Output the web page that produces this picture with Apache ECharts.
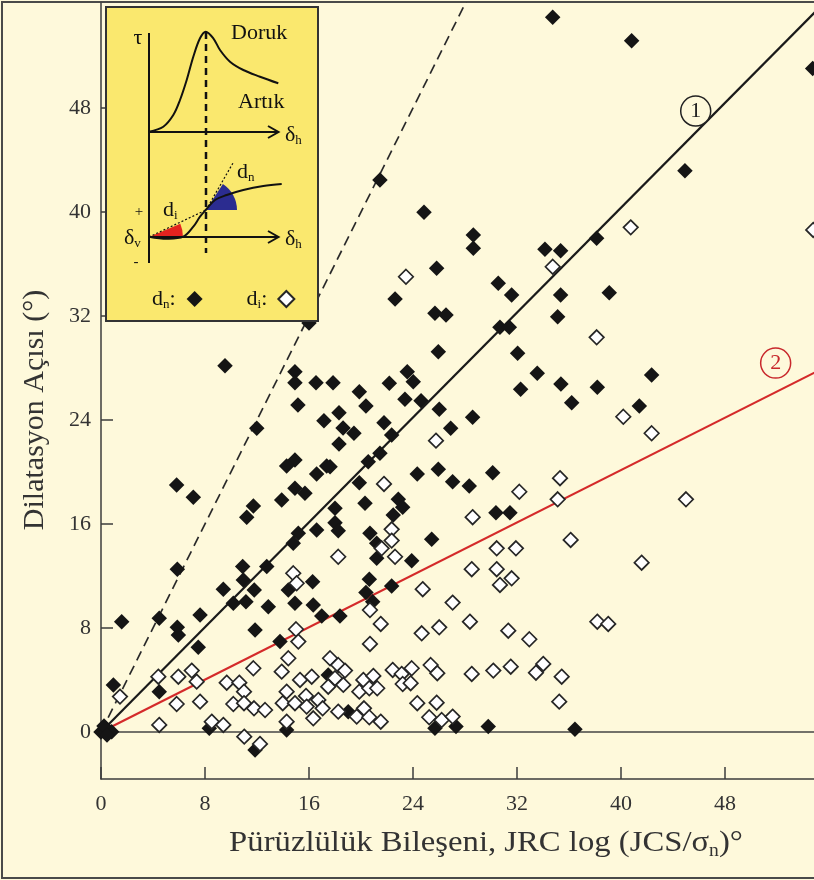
<!DOCTYPE html>
<html><head><meta charset="utf-8">
<script src="https://cdn.jsdelivr.net/npm/echarts@6/dist/echarts.min.js"></script>
<style>html,body{margin:0;padding:0;background:#fef9db}#c{width:814px;height:880px}</style>
</head><body><div id="c"></div>
<script>
// ---- data ----
const xTickVals = [0, 8, 16, 24, 32, 40, 48];
const yTickVals = [0, 8, 16, 24, 32, 40, 48];

// d_n : black diamonds
const dnX = [9.54,16.0,14.92,14.92,16.54,17.85,15.15,18.31,17.15,18.62,18.31,11.98,14.92,14.28,17.36,16.59,5.82,7.1,14.92,15.69,13.9,11.72,11.21,18.0,16.59,18.0,18.25,15.18,14.79,5.87,1.59,4.48,5.87,5.95,7.62,7.48,0.95,4.48,0.31,0.82,10.9,10.95,12.75,9.41,11.79,10.18,11.15,12.87,14.41,14.92,16.28,16.33,16.98,18.38,11.85,13.77,17.48,8.33,14.28,11.85,19.02,34.75,21.46,24.85,28.64,28.64,34.15,35.36,25.82,30.56,31.59,35.36,22.62,25.69,26.54,30.69,31.41,35.13,25.95,32.05,33.56,35.38,36.21,32.28,23.56,24.02,22.18,19.87,20.38,23.38,24.62,26.02,28.59,26.9,19.46,21.77,22.36,21.46,20.56,17.62,19.87,24.33,25.95,27.05,28.33,30.13,20.31,22.87,23.21,22.48,20.69,21.21,25.44,30.38,31.46,21.21,23.9,20.64,20.38,20.9,22.36,25.69,27.31,29.79,36.46,40.82,54.75,44.92,38.13,39.1,42.36,38.18,41.41,0,0.23,0.46];
const dnY = [28.18,31.46,27.72,26.87,26.87,26.87,25.15,24.56,23.95,23.38,22.15,23.36,20.92,20.46,20.46,19.85,19.0,18.05,18.75,18.36,17.85,17.38,16.52,17.21,15.54,16.1,15.48,15.28,14.52,12.52,8.48,8.75,8.05,7.46,9.0,6.52,3.62,3.1,0.28,0.02,12.72,11.69,12.72,10.98,10.92,9.9,10.02,9.64,10.92,9.9,11.56,9.77,8.92,8.92,7.85,6.95,4.38,0.28,0.15,-1.38,1.56,54.98,42.46,39.98,38.23,37.21,37.13,37.02,35.67,34.52,33.62,33.62,33.31,32.21,32.08,31.13,31.13,31.95,29.25,29.13,27.59,26.77,25.33,26.36,27.72,26.95,26.82,26.18,25.08,25.59,25.48,24.82,24.21,23.36,22.98,23.79,22.85,21.44,20.79,20.41,19.18,19.85,20.21,19.25,18.92,19.95,17.59,17.9,17.28,16.69,15.28,14.52,14.82,16.87,16.87,13.36,13.18,11.75,10.72,10.02,11.23,0.28,0.41,0.41,0.21,53.18,51.05,43.18,37.98,33.79,27.46,26.52,25.08,0,0.46,-0.23];

// d_i : white diamonds
const diX = [18.25,14.79,15.05,15.0,15.18,14.41,13.9,11.72,4.41,5.95,6.98,7.36,1.46,9.67,10.64,11.0,5.82,7.62,10.18,11.0,11.77,12.62,14.28,13.98,14.92,15.31,16.21,15.77,16.72,15.82,17.05,16.33,17.62,18.25,18.0,18.64,17.48,18.25,4.48,8.52,9.41,14.28,11.02,12.23,23.46,34.75,25.77,21.77,32.18,35.31,35.13,28.59,22.36,22.36,21.59,36.13,30.44,31.92,22.62,28.52,30.44,31.59,30.69,24.75,27.05,20.69,21.52,28.38,26.02,24.67,31.33,32.95,20.69,18.77,20.18,20.95,19.87,20.64,21.25,22.44,23.13,23.9,23.21,23.82,25.36,25.87,28.52,30.18,31.52,33.46,34.02,35.44,35.25,24.33,25.82,19.67,20.23,20.64,21.52,25.25,26.21,27.05,40.75,54.79,38.13,40.18,42.36,45.0,41.59,38.18,39.02];
const diY = [13.48,12.21,11.44,7.9,6.95,5.67,4.64,4.9,4.25,4.25,4.72,3.87,2.72,3.79,3.79,3.1,2.15,2.33,2.15,2.21,1.82,1.69,3.1,2.21,2.21,4.0,4.25,2.77,2.46,1.95,1.82,1.05,5.67,5.15,4.13,3.62,3.48,1.56,0.54,0.79,0.54,0.79,-0.36,-0.92,35.02,35.79,22.41,19.08,18.48,19.52,17.9,16.52,15.59,14.72,14.13,14.77,14.13,14.13,13.48,12.52,12.52,11.82,11.31,10.98,9.95,9.38,8.31,8.48,8.05,7.59,7.79,7.13,6.77,4.72,4.0,4.31,3.1,3.36,3.36,4.77,4.46,4.9,3.69,3.75,5.15,4.52,4.46,4.72,5.02,4.56,5.23,4.25,2.33,2.21,2.25,1.18,1.82,1.13,0.79,1.13,0.92,1.18,38.82,38.62,30.36,24.25,22.98,17.9,13.02,8.48,8.31];

// reference lines (end points)
const line1X = [0, 55];   const line1Y = [0, 55.45];   // (1)
const line2X = [0, 55];   const line2Y = [0, 27.7];    // (2)
const dashX  = [0, 30];   const dashY  = [0, 60];      // dashed
const zeroX  = [0, 55];   const zeroY  = [0, 0];
const label1 = [45.75, 47.77];
const label2 = [51.9, 28.38];

// ---- chart ----
const FONT = '"Liberation Serif", "Times New Roman", serif';
const pairs = (xs, ys) => xs.map((x, i) => [x, ys[i]]);
const chart = echarts.init(document.getElementById('c'), null, {renderer: 'canvas'});

function sub(x, y, main, s, size, align) {
  return {type: 'text', x: x, y: y, z: 5,
    style: {text: '{m|' + main + '}{s|' + s + '}', align: align || 'left', verticalAlign: 'middle',
      rich: {m: {fontSize: size, fontFamily: FONT, fill: '#111', lineHeight: size + 2},
             s: {fontSize: Math.round(size * 0.6), fontFamily: FONT, fill: '#111', lineHeight: 9, verticalAlign: 'bottom'}}}};
}
function seg(x1, y1, x2, y2, w, dash) {
  return {type: 'line', z: 5, shape: {x1: x1, y1: y1, x2: x2, y2: y2},
    style: {stroke: '#111', lineWidth: w || 2, lineDash: dash || null}};
}
const deg = Math.PI / 180;
const inset = [
  {type: 'rect', z: 5, shape: {x: 106, y: 7, width: 212, height: 314}, style: {fill: '#fae86e', stroke: '#333', lineWidth: 2}},
  {type: 'sector', z: 5, shape: {cx: 149, cy: 237, r: 34, r0: 0, startAngle: -23 * deg, endAngle: 0, clockwise: true}, style: {fill: '#e3231f'}},
  {type: 'sector', z: 5, shape: {cx: 206, cy: 210, r: 31, r0: 0, startAngle: -57 * deg, endAngle: 0, clockwise: true}, style: {fill: '#2b2c90'}},
  seg(149, 33, 149, 263),
  seg(149, 132, 278, 132),
  {type: 'polyline', z: 5, shape: {points: [[268, 126], [278.5, 132], [268, 138]]}, style: {stroke: '#111', lineWidth: 2, fill: null}},
  seg(149, 237, 278, 237),
  {type: 'polyline', z: 5, shape: {points: [[268, 231], [278.5, 237], [268, 243]]}, style: {stroke: '#111', lineWidth: 2, fill: null}},
  seg(206, 32, 206, 253, 2.5, [7, 5]),
  seg(149, 237, 206, 210, 1.2, [2, 2]),
  seg(206, 210, 233, 163, 1.2, [2, 2]),
  {type: 'polyline', z: 5, shape: {smooth: 0.35, points: [[149,131.7],[163.3,126.7],[173.3,115],[180,100],[186.7,80],[193.3,56.7],[200,38.3],[205.7,31.7],[213.3,38.3],[220,50],[230,61.7],[243.3,70],[260,76.7],[278.3,83.3]]}, style: {stroke: '#111', lineWidth: 2, fill: null}},
  {type: 'polyline', z: 5, shape: {smooth: 0.35, points: [[149,236.7],[166.7,238.7],[183.3,236.7],[193.3,226.7],[200,216.7],[205.7,210],[215,200],[226.7,195],[243.3,190],[263.3,186],[281.7,184]]}, style: {stroke: '#111', lineWidth: 2, fill: null}},
  {type: 'text', z: 5, x: 138, y: 38, style: {text: 'τ', font: '22px ' + FONT, fill: '#111', align: 'center', verticalAlign: 'middle'}},
  {type: 'text', z: 5, x: 231, y: 33, style: {text: 'Doruk', font: '22px ' + FONT, fill: '#111', align: 'left', verticalAlign: 'middle'}},
  {type: 'text', z: 5, x: 238, y: 102, style: {text: 'Artık', font: '22px ' + FONT, fill: '#111', align: 'left', verticalAlign: 'middle'}},
  {type: 'text', z: 5, x: 139, y: 212, style: {text: '+', font: '15px ' + FONT, fill: '#111', align: 'center', verticalAlign: 'middle'}},
  {type: 'text', z: 5, x: 136, y: 262, style: {text: '-', font: '15px ' + FONT, fill: '#111', align: 'center', verticalAlign: 'middle'}},
  sub(285, 135, 'δ', 'h', 22),
  sub(285, 239, 'δ', 'h', 22),
  sub(124, 238, 'δ', 'v', 22),
  sub(163, 210, 'd', 'i', 22),
  sub(237, 172, 'd', 'n', 22)
];

const option = {
  backgroundColor: '#fef9db',
  animation: false,
  grid: {left: 101, right: 0, top: 3, bottom: 101, containLabel: false},
  xAxis: {
    type: 'value', min: 0, max: 54.85,
    axisLine: {onZero: false, lineStyle: {color: '#3c3c3c', width: 1.5}},
    axisTick: {inside: true, length: 12, customValues: xTickVals, lineStyle: {color: '#3c3c3c', width: 1.5}},
    axisLabel: {customValues: xTickVals, margin: 14, fontFamily: FONT, fontSize: 22, color: '#333'},
    splitLine: {show: false}
  },
  yAxis: {
    type: 'value', min: -3.62, max: 56.08,
    axisLine: {onZero: false, lineStyle: {color: '#3c3c3c', width: 1.5}},
    axisTick: {inside: true, length: 12, customValues: yTickVals, lineStyle: {color: '#3c3c3c', width: 1.5}},
    axisLabel: {customValues: yTickVals, margin: 10, fontFamily: FONT, fontSize: 22, color: '#333'},
    splitLine: {show: false}
  },
  legend: {
    z: 8, left: 147, top: 283, align: 'right', itemGap: 44, itemWidth: 16, itemHeight: 16,
    icon: 'diamond', selectedMode: false, data: ['dn', 'di'],
    formatter: n => n === 'dn' ? '{t|d}{s|n}{c|:}' : '{t|d}{s|i}{c|:}',
    textStyle: {fontFamily: FONT, fontSize: 22, color: '#111',
      rich: {t: {fontFamily: FONT, fontSize: 22, color: '#111', lineHeight: 24},
             s: {fontFamily: FONT, fontSize: 13, color: '#111', lineHeight: 9, verticalAlign: 'bottom'},
             c: {fontFamily: FONT, fontSize: 22, color: '#111', lineHeight: 24, padding: [0, 6, 0, 0]}}}
  },
  series: [
    {name: 'zero', type: 'line', data: pairs(zeroX, zeroY), symbol: 'none', silent: true, z: 1,
     lineStyle: {color: '#444', width: 1.5}},
    {name: 'dash', type: 'line', data: pairs(dashX, dashY), symbol: 'none', silent: true, z: 1,
     lineStyle: {color: '#2a2a2a', width: 1.7, type: [10, 6]}},
    {name: 'line1', type: 'line', data: pairs(line1X, line1Y), symbol: 'none', silent: true, z: 1,
     lineStyle: {color: '#1a1a1a', width: 2.2},
     markPoint: {symbol: 'circle', symbolSize: 30, silent: true,
       itemStyle: {color: '#fef9db', borderColor: '#222', borderWidth: 1.5},
       label: {show: true, position: 'inside', formatter: '1', fontFamily: FONT, fontSize: 22, color: '#222'},
       data: [{coord: label1}]}},
    {name: 'line2', type: 'line', data: pairs(line2X, line2Y), symbol: 'none', silent: true, z: 1,
     lineStyle: {color: '#d42a2a', width: 2.2},
     markPoint: {symbol: 'circle', symbolSize: 30, silent: true,
       itemStyle: {color: '#fef9db', borderColor: '#c8282c', borderWidth: 1.5},
       label: {show: true, position: 'inside', formatter: '2', fontFamily: FONT, fontSize: 22, color: '#c8282c'},
       data: [{coord: label2}]}},
    {name: 'dn', type: 'scatter', data: pairs(dnX, dnY), symbol: 'diamond', symbolSize: 15.5, clip: false, z: 3,
     itemStyle: {color: '#151515', opacity: 1}},
    {name: 'di', type: 'scatter', data: pairs(diX, diY), symbol: 'diamond', symbolSize: 14.5, clip: false, z: 4,
     itemStyle: {color: '#ffffff', borderColor: '#262626', borderWidth: 1.7, opacity: 1}}
  ],
  graphic: [
    {type: 'rect', z: 0, silent: true, shape: {x: 2, y: 2, width: 840, height: 876}, style: {fill: null, stroke: '#4a4a4a', lineWidth: 2}},
    {type: 'text', z: 5, x: 486, y: 843, scaleX: 1.09,
     style: {text: '{a|Pürüzlülük Bileşeni, JRC log (JCS/σ}{b|n}{a|)°}', align: 'center', verticalAlign: 'middle',
       rich: {a: {fontSize: 30, fontFamily: FONT, fill: '#333', lineHeight: 34},
              b: {fontSize: 18, fontFamily: FONT, fill: '#333', lineHeight: 12, verticalAlign: 'bottom'}}}},
    {type: 'text', z: 5, x: 35, y: 410, rotation: Math.PI / 2,
     style: {text: 'Dilatasyon Açısı (°)', font: '30px ' + FONT, fill: '#333', align: 'center', verticalAlign: 'middle'}}
  ].concat(inset)
};
chart.setOption(option);
</script>
</body></html>
